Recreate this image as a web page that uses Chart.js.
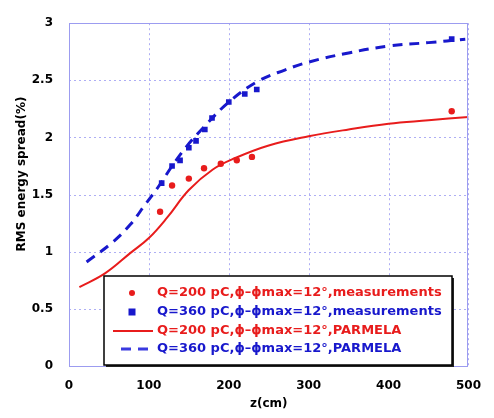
<!DOCTYPE html>
<html><head><meta charset="utf-8">
<script src="https://cdn.jsdelivr.net/npm/chart.js@4"></script>
<style>html,body{margin:0;padding:0;background:#fff}</style>
</head><body>
<canvas id="c" width="494" height="418" style="width:494px;height:418px;display:block"></canvas>
<script>
const xTicks = [0, 100, 200, 300, 400, 500];
const yTicks = [0, 0.5, 1, 1.5, 2, 2.5, 3];

const labels = [
  "Q=200 pC,\u03d5\u2013\u03d5max=12°,measurements",
  "Q=360 pC,\u03d5\u2013\u03d5max=12°,measurements",
  "Q=200 pC,\u03d5\u2013\u03d5max=12°,PARMELA",
  "Q=360 pC,\u03d5\u2013\u03d5max=12°,PARMELA"
];

const red200MeasX = [114, 129, 150, 169, 190, 210, 229, 479];
const red200MeasY = [1.35, 1.58, 1.64, 1.73, 1.77, 1.80, 1.83, 2.23];

const blue360MeasX = [116, 129, 139, 150, 159, 170, 179, 200, 220, 235, 479];
const blue360MeasY = [1.60, 1.75, 1.80, 1.91, 1.97, 2.07, 2.17, 2.31, 2.38, 2.42, 2.86];

const red200SimX = [13, 45, 77, 100, 123, 150, 180, 208, 250, 300, 350, 400, 450, 500];
const red200SimY = [0.69, 0.81, 0.99, 1.12, 1.30, 1.54, 1.72, 1.82, 1.93, 2.01, 2.07, 2.12, 2.15, 2.18];

const blue360SimX = [22, 54, 77, 95, 111, 130, 147, 170, 200, 236, 270, 300, 350, 400, 450, 496];
const blue360SimY = [0.91, 1.08, 1.24, 1.41, 1.56, 1.76, 1.92, 2.10, 2.31, 2.49, 2.59, 2.66, 2.74, 2.80, 2.83, 2.86];

const RED = '#e81c1c';
const BLUE = '#1818cc';
const GRID = '#aeaef4';
const FONT = '"DejaVu Sans", Verdana, sans-serif';

const pts = (xs, ys) => xs.map((x, i) => ({x, y: ys[i]}));

const dottedGrid = {
  id: 'dottedGrid',
  beforeDatasetsDraw(chart) {
    const ctx = chart.ctx, a = chart.chartArea;
    const xs = chart.scales.x, ys = chart.scales.y;
    ctx.save();
    ctx.strokeStyle = GRID;
    ctx.lineWidth = 1;
    ctx.setLineDash([2, 3]);
    xTicks.forEach(v => {
      const px = Math.round(xs.getPixelForValue(v)) + 0.5;
      ctx.beginPath(); ctx.moveTo(px, a.top); ctx.lineTo(px, a.bottom); ctx.stroke();
    });
    yTicks.forEach(v => {
      const py = Math.round(ys.getPixelForValue(v)) + 0.5;
      ctx.beginPath(); ctx.moveTo(a.left, py); ctx.lineTo(a.right, py); ctx.stroke();
    });
    ctx.restore();
  }
};

const frameAndLegend = {
  id: 'frameAndLegend',
  afterDatasetsDraw(chart) {
    const ctx = chart.ctx, a = chart.chartArea;
    ctx.save();
    ctx.strokeStyle = '#9c9cf0';
    ctx.lineWidth = 1;
    ctx.setLineDash([]);
    ctx.strokeRect(Math.round(a.left) + 0.5, Math.round(a.top) + 0.5, Math.round(a.right - a.left) - 1, Math.round(a.bottom - a.top));

    // legend box
    const bx = 104, by = 276, bw = 348, bh = 89;
    ctx.fillStyle = '#222';
    ctx.fillRect(bx + 2, by + 2, bw, bh);
    ctx.fillStyle = '#fff';
    ctx.fillRect(bx, by, bw, bh);
    ctx.strokeStyle = '#000';
    ctx.lineWidth = 1.5;
    ctx.strokeRect(bx, by, bw, bh);

    const rows = [293, 312, 331, 349];
    const ds = chart.data.datasets;
    ctx.font = 'bold 13px ' + FONT;
    ctx.textBaseline = 'middle';
    ctx.textAlign = 'left';
    ds.forEach((d, i) => {
      const y = rows[i];
      if (i === 0) {
        ctx.fillStyle = RED;
        ctx.beginPath(); ctx.arc(132, y, 3, 0, Math.PI * 2); ctx.fill();
      } else if (i === 1) {
        ctx.fillStyle = BLUE;
        ctx.fillRect(128.5, y - 3.5, 7, 7);
      } else if (i === 2) {
        ctx.strokeStyle = RED; ctx.lineWidth = 2; ctx.setLineDash([]);
        ctx.beginPath(); ctx.moveTo(113, y); ctx.lineTo(153, y); ctx.stroke();
      } else {
        ctx.strokeStyle = '#3a3ae0'; ctx.lineWidth = 3; ctx.setLineDash([10, 7]);
        ctx.beginPath(); ctx.moveTo(121, y); ctx.lineTo(150, y); ctx.stroke();
        ctx.setLineDash([]);
      }
      ctx.fillStyle = (i % 2 === 0) ? RED : BLUE;
      ctx.fillText(d.label, 157, y);
    });

    // axis titles
    ctx.fillStyle = '#000';
    ctx.font = 'bold 12px ' + FONT;
    ctx.textAlign = 'center';
    ctx.fillText('z(cm)', (a.left + a.right) / 2, 404);
    ctx.translate(22, 174);
    ctx.rotate(-Math.PI / 2);
    ctx.fillText('RMS energy spread(%)', 0, 0);
    ctx.restore();
  }
};

new Chart(document.getElementById('c'), {
  type: 'scatter',
  data: {
    datasets: [
      { label: labels[0], data: pts(red200MeasX, red200MeasY), showLine: false,
        pointStyle: 'circle', pointRadius: 3.2, backgroundColor: RED, borderColor: RED, borderWidth: 0, order: 1 },
      { label: labels[1], data: pts(blue360MeasX, blue360MeasY), showLine: false,
        pointStyle: 'rect', pointRadius: 4, backgroundColor: BLUE, borderColor: BLUE, borderWidth: 0, order: 1 },
      { label: labels[2], data: pts(red200SimX, red200SimY), showLine: true, pointRadius: 0,
        borderColor: RED, borderWidth: 2, tension: 0.4, order: 2 },
      { label: labels[3], data: pts(blue360SimX, blue360SimY), showLine: true, pointRadius: 0,
        borderColor: BLUE, borderWidth: 3, borderDash: [10, 7], tension: 0.4, order: 2 }
    ]
  },
  options: {
    responsive: false,
    animation: false,
    layout: { padding: { top: 12, right: 14, left: 0, bottom: 0 } },
    plugins: { legend: { display: false }, tooltip: { enabled: false } },
    scales: {
      x: {
        type: 'linear', min: 0, max: 500,
        afterBuildTicks: s => { s.ticks = xTicks.map(v => ({value: v})); },
        afterFit: s => { s.height = 52; },
        grid: { display: false, drawTicks: false },
        border: { display: false },
        ticks: { color: '#000', padding: 13, callback: v => String(v), font: { family: FONT, size: 12, weight: 'bold' } }
      },
      y: {
        type: 'linear', min: 0, max: 3,
        afterBuildTicks: s => { s.ticks = yTicks.map(v => ({value: v})); },
        afterFit: s => { s.width = 69; },
        grid: { display: false, drawTicks: false },
        border: { display: false },
        ticks: { color: '#000', padding: 16, callback: v => String(v), font: { family: FONT, size: 12, weight: 'bold' } }
      }
    }
  },
  plugins: [dottedGrid, frameAndLegend]
});
</script>
</body></html>
